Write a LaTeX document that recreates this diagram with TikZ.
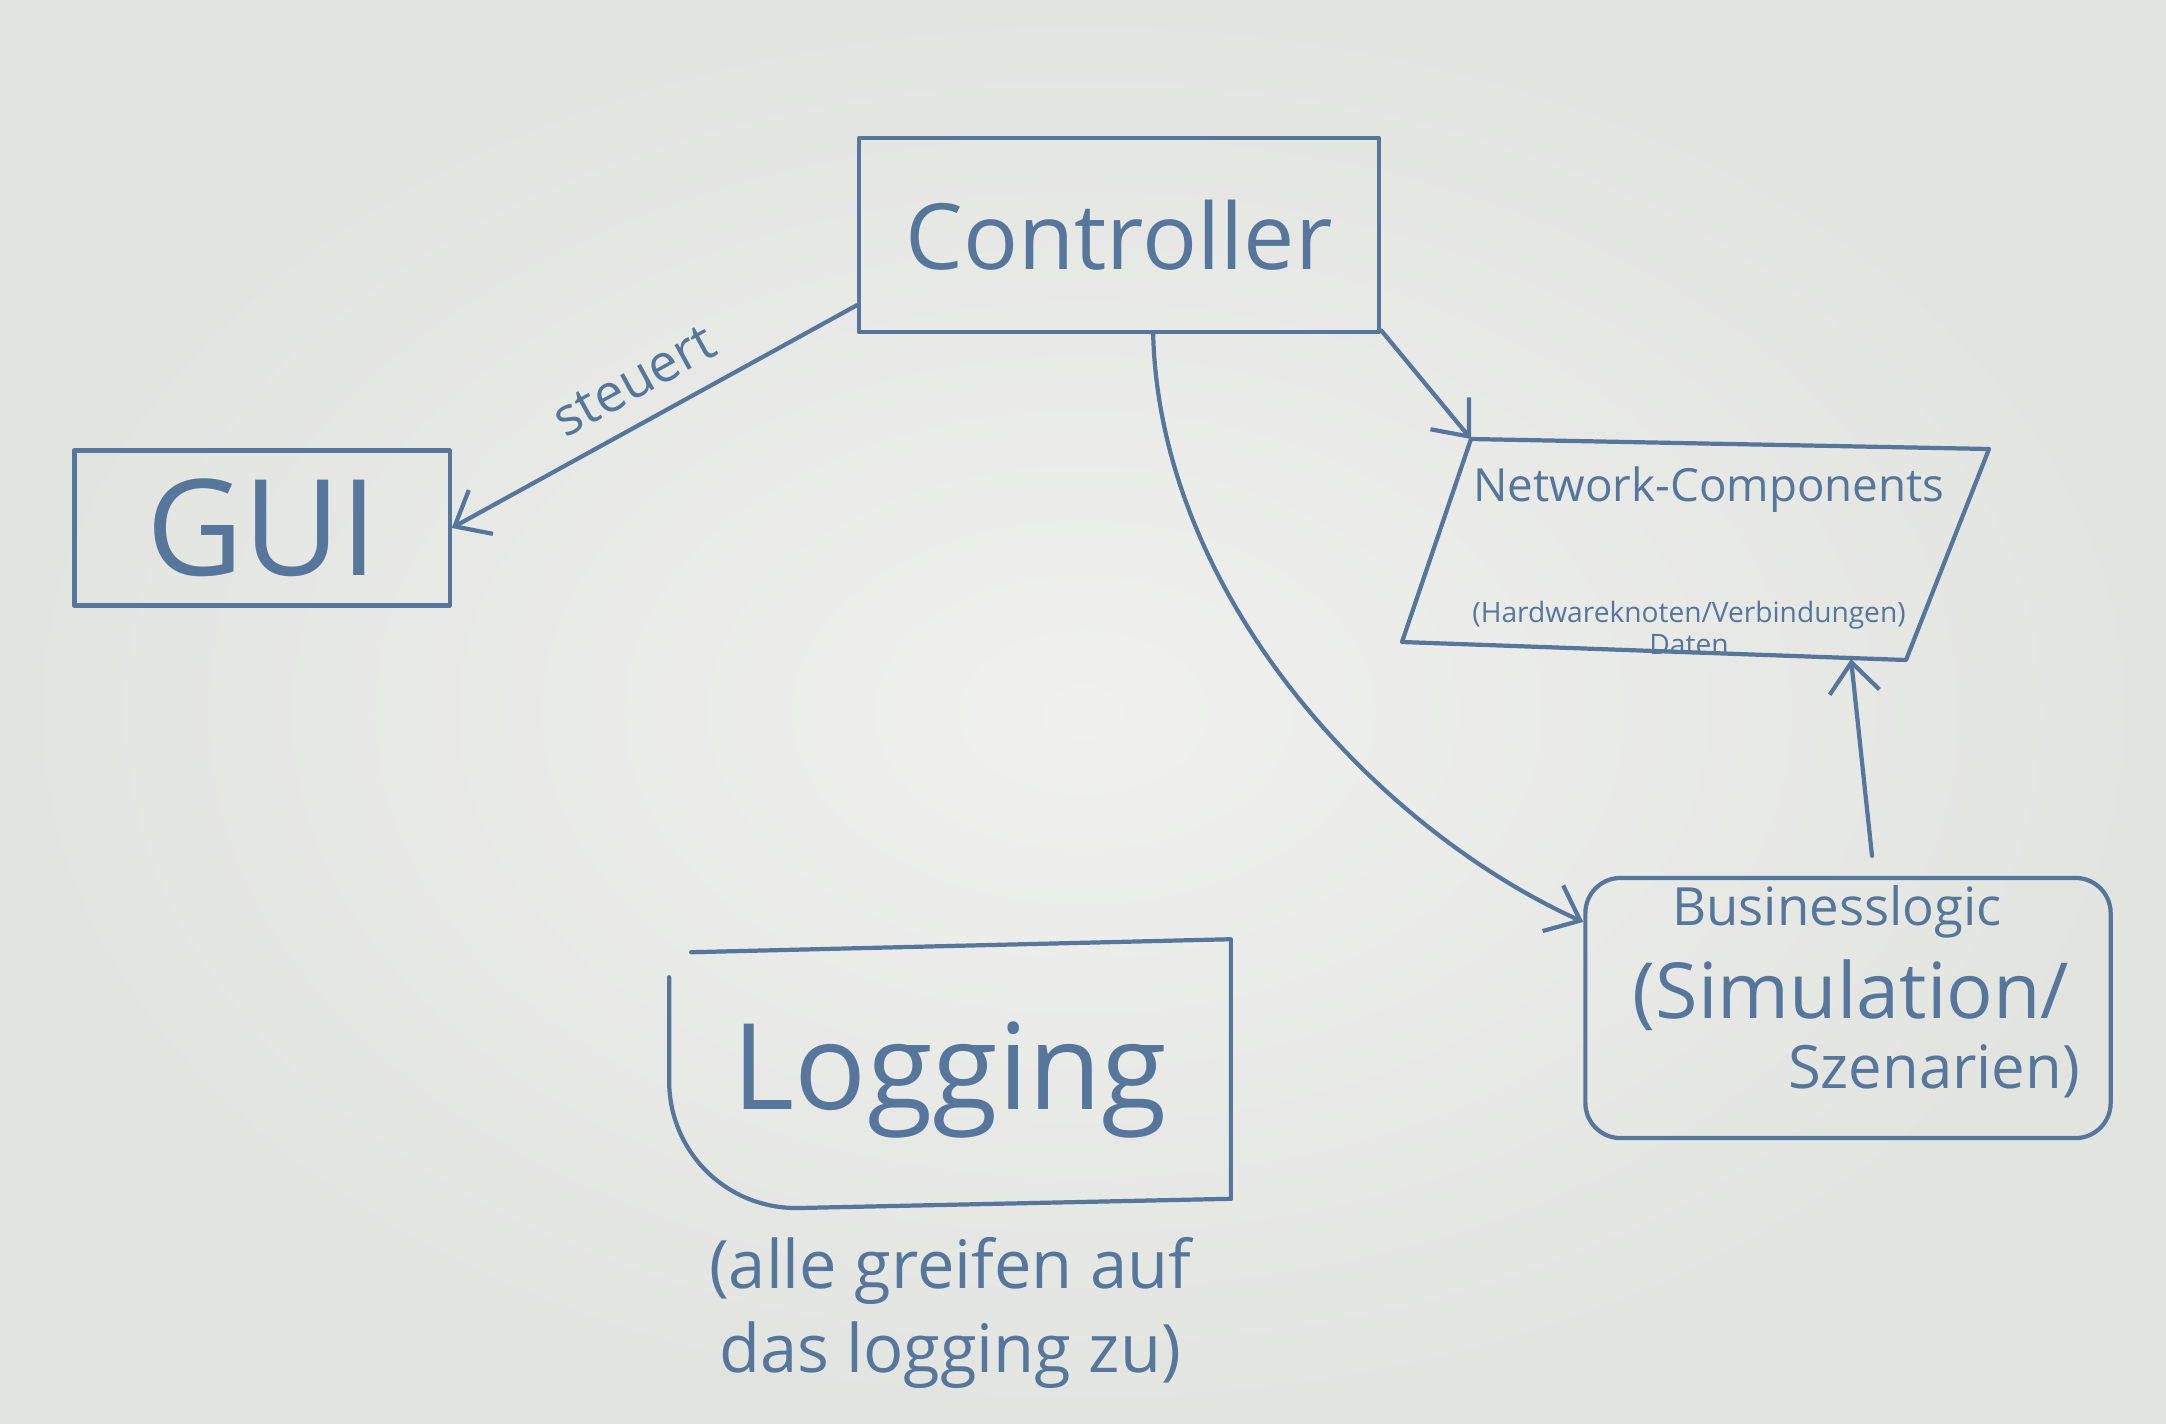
\documentclass[tikz,border=0pt]{standalone}
\usepackage{fontspec}
\setmainfont{Open Sans}
\usetikzlibrary{arrows.meta,calc,positioning}
\definecolor{markerBlue}{HTML}{56769B}
\definecolor{boardGray}{HTML}{E2E4E0}
\definecolor{boardLight}{HTML}{F0F1EE}
\tikzset{
  pen/.style={draw=markerBlue, line width=1.2pt, line cap=round, line join=round},
  arrow/.style={pen, -{Straight Barb[length=3.0mm,width=5.0mm]}},
  box/.style={rectangle, pen, inner sep=0pt, text=markerBlue},
  penText/.style={text=markerBlue, inner sep=1pt, align=center},
  hugeText/.style={penText, font=\fontsize{26}{30}\selectfont},
  guiText/.style={penText, font=\fontsize{38}{42}\selectfont},
  logText/.style={penText, font=\fontsize{34}{38}\selectfont},
  midText/.style={penText, font=\fontsize{15}{18}\selectfont},
  smallText/.style={penText, font=\fontsize{8}{9}\selectfont},
  noteText/.style={penText, font=\fontsize{19}{24}\selectfont}
}

\begin{document}
\begin{tikzpicture}[x=0.01cm,y=-0.01cm]
\useasboundingbox (0,0) rectangle (2166,1424);
\shade[inner color=boardLight, outer color=boardGray] (0,0) rectangle (2166,1424);

% --------------------------------------------------------------------------
% Controller and GUI
% --------------------------------------------------------------------------
\node[box, hugeText, minimum width=5.2cm, minimum height=1.94cm] (ctrlBox) at (1119,235) {Controller};
\node[box, guiText, minimum width=3.75cm, minimum height=1.55cm] (guiBox) at (262,528) {GUI};

\draw[arrow] (ctrlBox.195) -- node[midText, sloped, above=5pt] {steuert} (guiBox.east);

% --------------------------------------------------------------------------
% Network components
% --------------------------------------------------------------------------
\node[minimum width=5.2cm, minimum height=2.1cm] (netBox) at (1695,550) {};
\coordinate (netNW) at ($(netBox.center)+(-224,-111)$);
\coordinate (netNE) at ($(netBox.center)+(294,-101)$);
\coordinate (netSE) at ($(netBox.center)+(211,110)$);
\coordinate (netSW) at ($(netBox.center)+(-293,92)$);
\coordinate (netIn) at ($(netBox.center)+(156,109)$);
\draw[pen] (netNW) -- (netNE) -- (netSE) -- (netSW) -- cycle;
\node[penText, font=\fontsize{13}{15}\selectfont] (netTitle) at (1709,490) {Network-Components};
\node[smallText] (netSub) at (1689,615) {(Hardwareknoten/Verbindungen)};
\node[smallText, below=-1pt of netSub] (netData) {Daten};

\draw[arrow] (ctrlBox.-20) -- (netNW);

% --------------------------------------------------------------------------
% Businesslogic
% --------------------------------------------------------------------------
\node[box, rounded corners=10pt, minimum width=5.25cm, minimum height=2.6cm] (bizBox) at (1848,1008) {};
\node[midText] (bizTitle) at (1837,912) {Businesslogic};
\node[penText, font=\fontsize{22}{26}\selectfont] (bizSim) at (1851,995) {(Simulation/};
\node[penText, font=\fontsize{17}{20}\selectfont] (bizScen) at (1934,1071) {Szenarien)};

\draw[arrow] (ctrlBox.-71) .. controls +(7,262) and +(-206,-93) .. (bizBox.162);
\draw[arrow] ($(bizBox.north)+(24,-20)$) -- (netIn);

% --------------------------------------------------------------------------
% Logging
% --------------------------------------------------------------------------
\node[logText, minimum width=5.6cm, minimum height=2.6cm] (logBox) at (950,1080) {Logging};
\draw[pen] ($(logBox.north west)+(22,3)$) -- ($(logBox.north east)+(0,-10)$) -- ($(logBox.south east)+(0,-12)$);
\draw[pen, rounded corners=1.3cm] ($(logBox.south east)+(0,-12)$) -- (logBox.south west) -- ($(logBox.north west)+(0,28)$);
\node[noteText, below=0.22cm of logBox] (logNote) {(alle greifen auf\\das logging zu)};

\end{tikzpicture}
\end{document}
